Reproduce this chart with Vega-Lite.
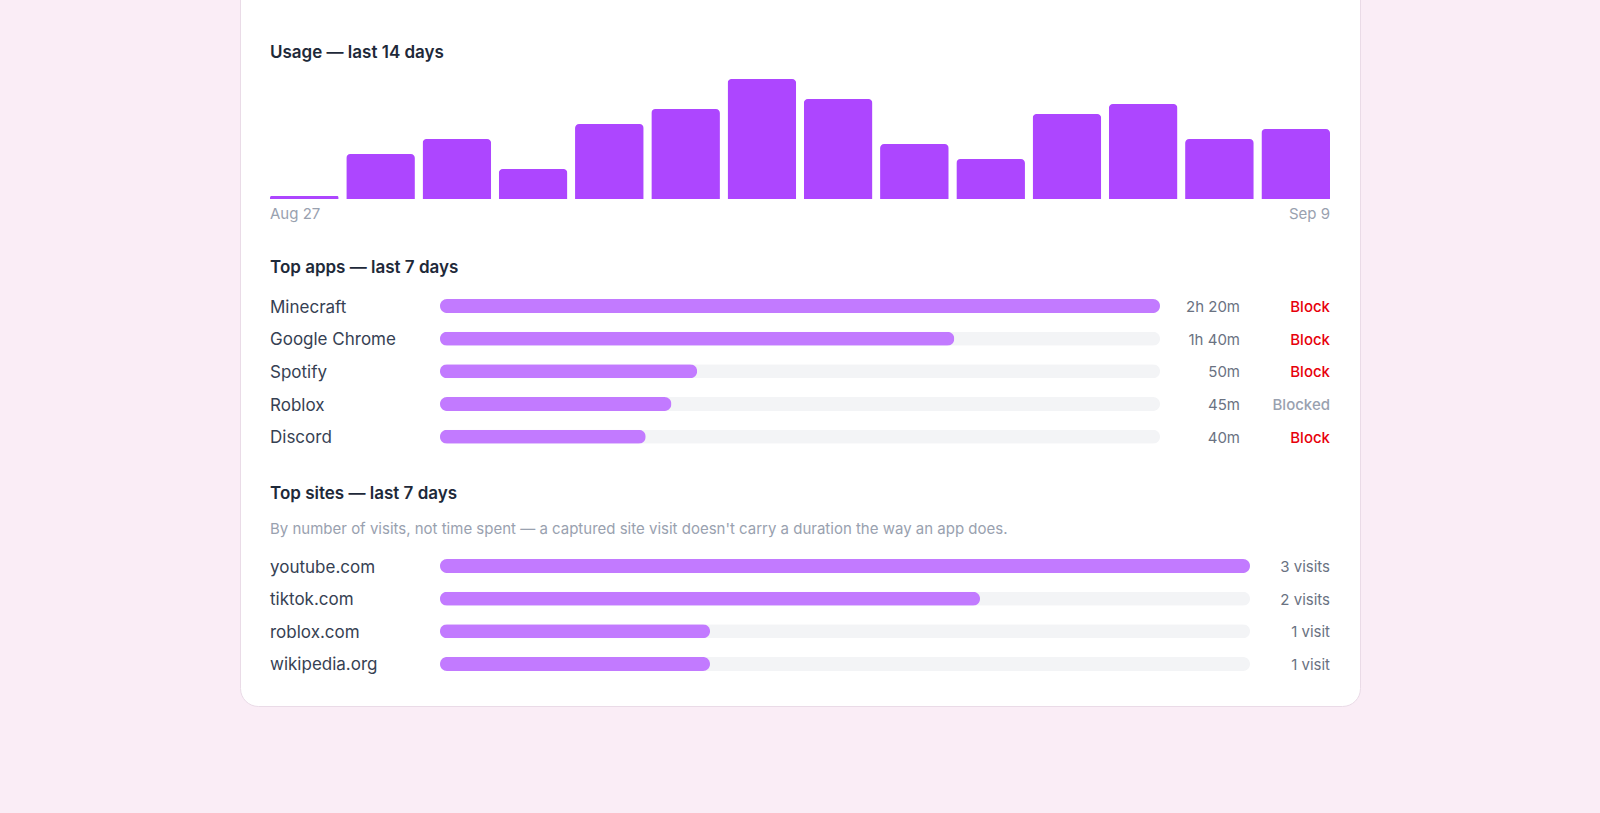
{
  "$schema": "https://vega.github.io/schema/vega-lite/v6.json",
  "width": 1120,
  "height": 726,
  "autosize": {"type": "none"},
  "padding": {"left": 240, "right": 240, "top": -20, "bottom": 107},
  "background": "#faedf6",
  "config": {
    "font": "Inter",
    "text": {"font": "Inter"},
    "view": {"fill": "#ffffff", "stroke": "#eadbe7", "strokeWidth": 1, "cornerRadius": 18}
  },
  "datasets": {
    "usage": [
      {"day": "Aug 27", "minutes": 3},
      {"day": "Aug 28", "minutes": 45},
      {"day": "Aug 29", "minutes": 60},
      {"day": "Aug 30", "minutes": 30},
      {"day": "Aug 31", "minutes": 75},
      {"day": "Sep 1", "minutes": 90},
      {"day": "Sep 2", "minutes": 120},
      {"day": "Sep 3", "minutes": 100},
      {"day": "Sep 4", "minutes": 55},
      {"day": "Sep 5", "minutes": 40},
      {"day": "Sep 6", "minutes": 85},
      {"day": "Sep 7", "minutes": 95},
      {"day": "Sep 8", "minutes": 60},
      {"day": "Sep 9", "minutes": 70}
    ],
    "apps": [
      {"app": "Minecraft", "minutes": 140, "time": "2h 20m", "action": "Block"},
      {"app": "Google Chrome", "minutes": 100, "time": "1h 40m", "action": "Block"},
      {"app": "Spotify", "minutes": 50, "time": "50m", "action": "Block"},
      {"app": "Roblox", "minutes": 45, "time": "45m", "action": "Blocked"},
      {"app": "Discord", "minutes": 40, "time": "40m", "action": "Block"}
    ],
    "sites": [
      {"site": "youtube.com", "visits": 3, "label": "3 visits"},
      {"site": "tiktok.com", "visits": 2, "label": "2 visits"},
      {"site": "roblox.com", "visits": 1, "label": "1 visit"},
      {"site": "wikipedia.org", "visits": 1, "label": "1 visit"}
    ]
  },
  "layer": [
    {
      "data": {"name": "usage"},
      "encoding": {
        "x": {
          "field": "day", "type": "nominal", "sort": null,
          "scale": {
            "type": "band",
            "domain": ["Aug 27", "Aug 28", "Aug 29", "Aug 30", "Aug 31", "Sep 1", "Sep 2", "Sep 3", "Sep 4", "Sep 5", "Sep 6", "Sep 7", "Sep 8", "Sep 9"],
            "range": [30, 1090], "paddingInner": 0.1, "paddingOuter": 0
          },
          "axis": null
        },
        "y": {
          "field": "minutes", "type": "quantitative",
          "scale": {"domain": [0, 120], "range": [219, 99]},
          "axis": null
        }
      },
      "layer": [
        {
          "mark": {"type": "bar", "color": "#ad46ff", "cornerRadiusTopLeft": 4, "cornerRadiusTopRight": 4}
        },
        {
          "transform": [{"filter": "datum.day == 'Aug 27'"}],
          "mark": {"type": "text", "align": "left", "baseline": "middle", "dy": 15, "fontSize": 15, "color": "#99a1af"},
          "encoding": {
            "x": {"field": "day", "type": "nominal", "bandPosition": 0},
            "y": {"datum": 0, "type": "quantitative"},
            "text": {"field": "day"}
          }
        },
        {
          "transform": [{"filter": "datum.day == 'Sep 9'"}],
          "mark": {"type": "text", "align": "right", "baseline": "middle", "dy": 15, "fontSize": 15, "color": "#99a1af"},
          "encoding": {
            "x": {"field": "day", "type": "nominal", "bandPosition": 1},
            "y": {"datum": 0, "type": "quantitative"},
            "text": {"field": "day"}
          }
        },
        {
          "transform": [{"filter": "datum.day == 'Aug 27'"}],
          "mark": {"type": "text", "align": "left", "baseline": "middle", "dy": -26.5, "fontSize": 17, "fontWeight": 600, "color": "#1e2939"},
          "encoding": {
            "x": {"field": "day", "type": "nominal", "bandPosition": 0},
            "y": {"datum": 120, "type": "quantitative"},
            "text": {"value": "Usage — last 14 days"}
          }
        }
      ]
    },
    {
      "data": {"name": "apps"},
      "encoding": {
        "y": {
          "field": "app", "type": "nominal", "sort": null,
          "scale": {
            "type": "band",
            "domain": ["Minecraft", "Google Chrome", "Spotify", "Roblox", "Discord"],
            "range": [309.7, 473], "paddingInner": 0, "paddingOuter": 0
          },
          "axis": null
        }
      },
      "layer": [
        {
          "transform": [{"joinaggregate": [{"op": "max", "field": "minutes", "as": "max_minutes"}]}],
          "mark": {"type": "bar", "height": 14, "cornerRadius": 7, "color": "#f3f4f6"},
          "encoding": {
            "x": {"field": "max_minutes", "type": "quantitative", "scale": {"domain": [0, 140], "range": [200, 920]}, "axis": null}
          }
        },
        {
          "mark": {"type": "bar", "height": 14, "cornerRadius": 7, "color": "#c27aff"},
          "encoding": {
            "x": {"field": "minutes", "type": "quantitative"}
          }
        },
        {
          "mark": {"type": "text", "align": "left", "baseline": "middle", "dx": -170, "dy": 1.5, "fontSize": 17, "color": "#364153"},
          "encoding": {
            "x": {"datum": 0, "type": "quantitative"},
            "text": {"field": "app"}
          }
        },
        {
          "transform": [{"joinaggregate": [{"op": "max", "field": "minutes", "as": "max_minutes"}]}],
          "mark": {"type": "text", "align": "right", "baseline": "middle", "dx": 80, "dy": 1, "fontSize": 15, "color": "#6a7282"},
          "encoding": {
            "x": {"field": "max_minutes", "type": "quantitative"},
            "text": {"field": "time"}
          }
        },
        {
          "transform": [{"joinaggregate": [{"op": "max", "field": "minutes", "as": "max_minutes"}]}],
          "mark": {"type": "text", "align": "right", "baseline": "middle", "dx": 170, "dy": 1, "fontSize": 15, "fontWeight": 500},
          "encoding": {
            "x": {"field": "max_minutes", "type": "quantitative"},
            "text": {"field": "action"},
            "color": {"field": "action", "type": "nominal", "scale": {"domain": ["Block", "Blocked"], "range": ["#e7000b", "#99a1af"]}, "legend": null}
          }
        },
        {
          "data": {"values": [{"title": "Top apps — last 7 days"}]},
          "mark": {"type": "text", "align": "left", "baseline": "middle", "dx": -170, "dy": -38.5, "fontSize": 17, "fontWeight": 600, "color": "#1e2939"},
          "encoding": {
            "x": {"datum": 0, "type": "quantitative"},
            "y": {"datum": "Minecraft", "type": "nominal"},
            "text": {"field": "title"}
          }
        }
      ]
    },
    {
      "data": {"name": "sites"},
      "encoding": {
        "y": {
          "field": "site", "type": "nominal", "sort": null,
          "scale": {
            "type": "band",
            "domain": ["youtube.com", "tiktok.com", "roblox.com", "wikipedia.org"],
            "range": [569.7, 700.3], "paddingInner": 0, "paddingOuter": 0
          },
          "axis": null
        }
      },
      "layer": [
        {
          "transform": [{"joinaggregate": [{"op": "max", "field": "visits", "as": "max_visits"}]}],
          "mark": {"type": "bar", "height": 14, "cornerRadius": 7, "color": "#f3f4f6"},
          "encoding": {
            "x": {"field": "max_visits", "type": "quantitative", "scale": {"domain": [0, 3], "range": [200, 1010]}, "axis": null}
          }
        },
        {
          "mark": {"type": "bar", "height": 14, "cornerRadius": 7, "color": "#c27aff"},
          "encoding": {
            "x": {"field": "visits", "type": "quantitative"}
          }
        },
        {
          "mark": {"type": "text", "align": "left", "baseline": "middle", "dx": -170, "dy": 1.5, "fontSize": 17, "color": "#364153"},
          "encoding": {
            "x": {"datum": 0, "type": "quantitative"},
            "text": {"field": "site"}
          }
        },
        {
          "transform": [{"joinaggregate": [{"op": "max", "field": "visits", "as": "max_visits"}]}],
          "mark": {"type": "text", "align": "right", "baseline": "middle", "dx": 80, "dy": 1, "fontSize": 15, "color": "#6a7282"},
          "encoding": {
            "x": {"field": "max_visits", "type": "quantitative"},
            "text": {"field": "label"}
          }
        },
        {
          "data": {"values": [{"title": "Top sites — last 7 days", "note": "By number of visits, not time spent — a captured site visit doesn't carry a duration the way an app does."}]},
          "layer": [
            {
              "mark": {"type": "text", "align": "left", "baseline": "middle", "dx": -170, "dy": -72.5, "fontSize": 17, "fontWeight": 600, "color": "#1e2939"},
              "encoding": {
                "x": {"datum": 0, "type": "quantitative"},
                "y": {"datum": "youtube.com", "type": "nominal"},
                "text": {"field": "title"}
              }
            },
            {
              "mark": {"type": "text", "align": "left", "baseline": "middle", "dx": -170, "dy": -37, "fontSize": 15, "color": "#99a1af"},
              "encoding": {
                "x": {"datum": 0, "type": "quantitative"},
                "y": {"datum": "youtube.com", "type": "nominal"},
                "text": {"field": "note"}
              }
            }
          ]
        }
      ]
    }
  ],
  "resolve": {"scale": {"x": "independent", "y": "independent", "color": "independent"}}
}
